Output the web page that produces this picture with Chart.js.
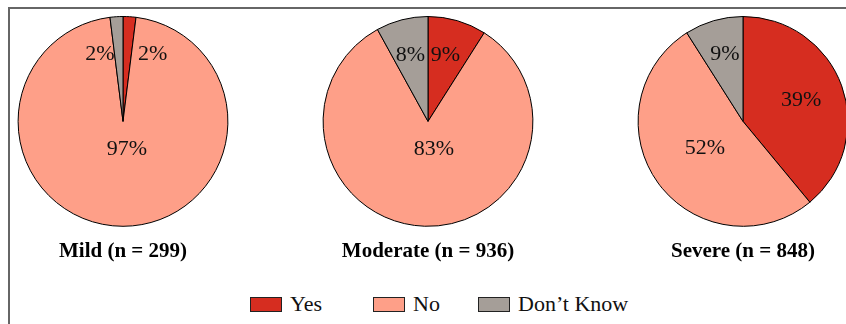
<!DOCTYPE html>
<html>
<head>
<meta charset="utf-8">
<script src="https://cdn.jsdelivr.net/npm/chart.js@4.4.1/dist/chart.umd.min.js"></script>
<style>
  html, body { margin: 0; padding: 0; background: #fff; }
  body { width: 846px; height: 324px; position: relative; overflow: hidden; font-family: "Liberation Serif", "Times New Roman", serif; }
  .frame { position: absolute; left: 8px; top: 7px; width: 900px; height: 400px; border-top: 2px solid #666; border-left: 2px solid #666; }
  .pie { position: absolute; top: 0; }
  #legend { position: absolute; left: 250px; top: 293px; display: flex; align-items: center; height: 22px; font-size: 22px; line-height: 22px; color: #111; }
  #legend .item { display: flex; align-items: center; }
  #legend .item:nth-child(1) { width: 123px; }
  #legend .item:nth-child(2) { width: 105px; }
  #legend .swatch { width: 32px; height: 15px; box-sizing: border-box; border: 1px solid #222; margin-right: 8px; }
</style>
</head>
<body>
<div class="frame"></div>
<canvas id="mild" class="pie" width="246" height="264" style="left:0px"></canvas>
<canvas id="moderate" class="pie" width="246" height="264" style="left:305px"></canvas>
<canvas id="severe" class="pie" width="246" height="264" style="left:620px"></canvas>
<div id="legend"></div>
<script>
const answers = ['Yes', 'No', 'Don\u2019t Know'];
const answerColors = ['#d62d20', '#fe9f88', '#a59e98'];

const groups = ['Mild (n = 299)', 'Moderate (n = 936)', 'Severe (n = 848)'];
const mildPct = [2, 97, 2];
const moderatePct = [9, 83, 8];
const severePct = [39, 52, 9];

// where each percentage sits, as offsets from the pie centre in radius units
const labelSpots = {
    mild: [[0.282, -0.636], [0.038, 0.268], [-0.22, -0.636]],
    moderate: [[0.167, -0.632], [0.057, 0.263], [-0.167, -0.632]],
    severe: [[0.555, -0.206], [-0.364, 0.258], [-0.172, -0.636]]
};

const sliceLabels = {
    id: 'sliceLabels',
    afterDatasetsDraw(chart, args, opts) {
        const arc = chart.getDatasetMeta(0).data[0];
        const r = arc.outerRadius;
        const ctx = chart.ctx;
        ctx.save();
        ctx.font = '22px "Liberation Serif"';
        ctx.fillStyle = '#111';
        ctx.textAlign = 'center';
        ctx.textBaseline = 'middle';
        chart.data.datasets[0].data.forEach((v, i) => {
            const [dx, dy] = opts.spots[i];
            ctx.fillText(v + '%', arc.x + dx * r, arc.y + dy * r);
        });
        ctx.restore();
    }
};

function renderPie(canvasId, title, values, spots) {
    const ctx = document.getElementById(canvasId).getContext('2d');
    return new Chart(ctx, {
        type: 'pie',
        data: {
            labels: answers,
            datasets: [{
                data: values,
                backgroundColor: answerColors,
                borderColor: '#000',
                borderWidth: 1
            }]
        },
        options: {
            responsive: false,
            animation: false,
            events: [],
            layout: { padding: { top: 16, left: 0, right: 0, bottom: 0 } },
            plugins: {
                legend: { display: false },
                tooltip: { enabled: false },
                title: {
                    display: true,
                    text: title,
                    position: 'bottom',
                    color: '#000',
                    font: { family: 'Liberation Serif', size: 21, weight: 'bold' },
                    padding: { top: 12, bottom: 0 }
                },
                sliceLabels: { spots: spots }
            }
        },
        plugins: [sliceLabels]
    });
}

renderPie('mild', groups[0], mildPct, labelSpots.mild);
renderPie('moderate', groups[1], moderatePct, labelSpots.moderate);
renderPie('severe', groups[2], severePct, labelSpots.severe);

// shared legend under the three pies
const legend = document.getElementById('legend');
answers.forEach((name, i) => {
    const item = document.createElement('div');
    item.className = 'item';
    const swatch = document.createElement('span');
    swatch.className = 'swatch';
    swatch.style.background = answerColors[i];
    const text = document.createElement('span');
    text.textContent = name;
    item.appendChild(swatch);
    item.appendChild(text);
    legend.appendChild(item);
});
</script>
</body>
</html>
